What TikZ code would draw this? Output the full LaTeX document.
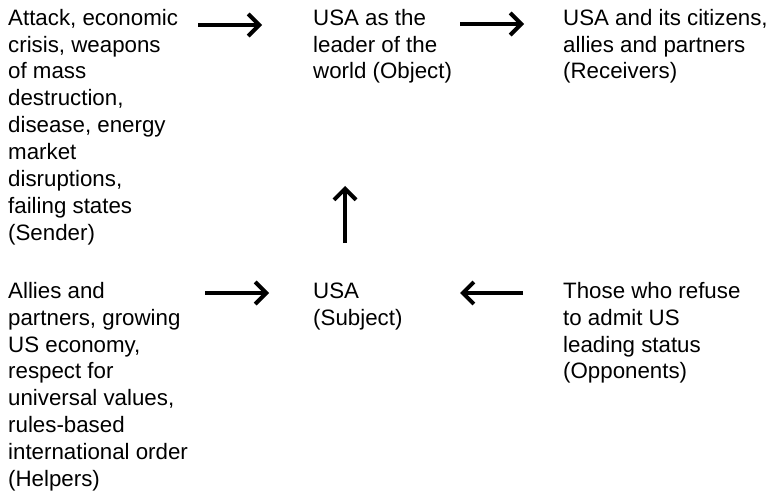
\documentclass[tikz,border=0pt]{standalone}
\usepackage{fontspec}
\setmainfont{Liberation Sans}
\usetikzlibrary{arrows.meta}
% fixed-height strut so every block's top sits a set distance above its first baseline
\newcommand\firstline{\rule{0pt}{17pt}}
\begin{document}
\begin{tikzpicture}[x=1pt,y=-1pt,
  actant/.style={anchor=north west,inner sep=0pt,align=left,
    font=\fontsize{22.3}{26.9}\selectfont},
  flow/.style={line width=3.4pt,
    -{Straight Barb[length=11pt,width=22pt,line width=4pt]}}]
\useasboundingbox[fill=white] (0,0) rectangle (767,494);

\node[actant] (sender) at (8,8) {\firstline Attack, economic\\crisis, weapons\\of mass\\destruction,\\disease, energy\\market\\disruptions,\\failing states\\(Sender)};
\node[actant] (object) at (313,8) {\firstline USA as the\\leader of the\\world (Object)};
\node[actant] (receiver) at (563,8) {\firstline USA and its citizens,\\allies and partners\\(Receivers)};
\node[actant] (helper) at (8,281) {\firstline Allies and\\partners, growing\\US economy,\\respect for\\universal values,\\rules-based\\international order\\(Helpers)};
\node[actant] (subject) at (313,281) {\firstline USA\\(Subject)};
\node[actant] (opponent) at (563,281) {\firstline Those who refuse\\to admit US\\leading status\\(Opponents)};

\coordinate (a1s) at (198,25);  \coordinate (a1e) at (262,25);
\coordinate (a2s) at (460,24);  \coordinate (a2e) at (524,24);
\coordinate (a3s) at (345,243); \coordinate (a3e) at (345,186);
\coordinate (a4s) at (205,293); \coordinate (a4e) at (269,293);
\coordinate (a5s) at (523,293); \coordinate (a5e) at (460,293);

\draw[flow] (a1s) -- (a1e);
\draw[flow] (a2s) -- (a2e);
\draw[flow] (a3s) -- (a3e);
\draw[flow] (a4s) -- (a4e);
\draw[flow] (a5s) -- (a5e);
\end{tikzpicture}
\end{document}
